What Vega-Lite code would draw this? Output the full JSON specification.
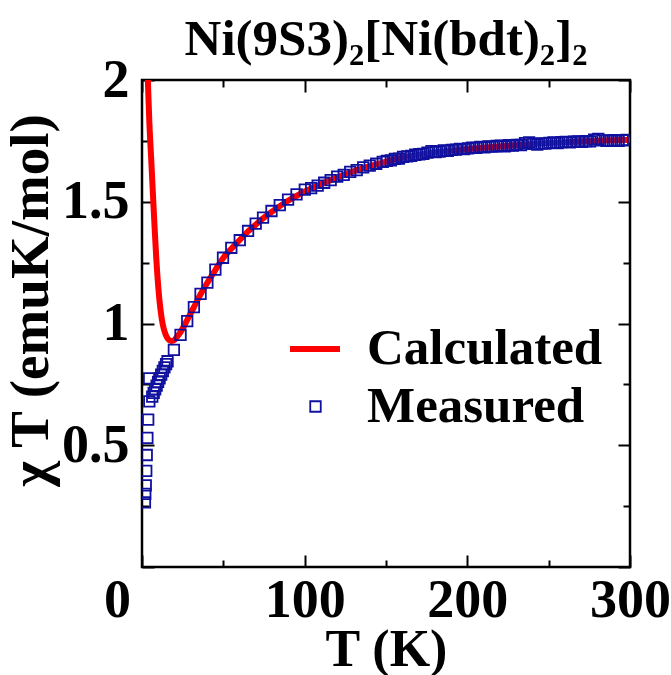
{
  "$schema": "https://vega.github.io/schema/vega-lite/v6.json",
  "autosize": {"type": "none"},
  "width": 488,
  "height": 487,
  "padding": {"left": 142, "top": 80, "right": 41, "bottom": 108},
  "background": "white",
  "config": {
    "font": "Liberation Serif",
    "view": {"stroke": "black", "strokeWidth": 2.5},
    "axis": {
      "domain": false, "grid": false, "tickColor": "black", "tickWidth": 2,
      "labelFont": "Liberation Serif", "labelFontWeight": "bold", "labelFontSize": 54, "labelColor": "black",
      "titleFont": "Liberation Serif", "titleFontWeight": "bold", "titleFontSize": 52, "titleColor": "black",
      "labelFlush": false, "labelOverlap": false, "labelBound": false
    }
  },
  "title": {"text": "Ni(9S3)₂[Ni(bdt)₂]₂", "fontSize": 51, "font": "Liberation Serif", "fontWeight": "bold", "anchor": "middle", "frame": "group", "baseline": "alphabetic", "offset": -53, "color": "black"},
  "datasets": {
    "calc": [
      {"T": 2.8, "chiT": 2.15}, {"T": 3.6, "chiT": 2.0}, {"T": 4.5, "chiT": 1.83}, {"T": 5.7, "chiT": 1.67},
      {"T": 6.7, "chiT": 1.535}, {"T": 7.7, "chiT": 1.4}, {"T": 8.8, "chiT": 1.265}, {"T": 10.0, "chiT": 1.15},
      {"T": 11.3, "chiT": 1.06}, {"T": 12.8, "chiT": 0.995}, {"T": 14.5, "chiT": 0.955}, {"T": 16.2, "chiT": 0.935},
      {"T": 17.8, "chiT": 0.928}, {"T": 19.5, "chiT": 0.93}, {"T": 21.5, "chiT": 0.945}, {"T": 23.7, "chiT": 0.965},
      {"T": 27.8, "chiT": 1.015}, {"T": 31.9, "chiT": 1.067}, {"T": 36.0, "chiT": 1.12}, {"T": 40.2, "chiT": 1.168},
      {"T": 45.1, "chiT": 1.22}, {"T": 49.8, "chiT": 1.268}, {"T": 54.9, "chiT": 1.307}, {"T": 60.1, "chiT": 1.343},
      {"T": 65.2, "chiT": 1.378}, {"T": 69.9, "chiT": 1.406}, {"T": 74.4, "chiT": 1.432}, {"T": 79.6, "chiT": 1.458},
      {"T": 84.7, "chiT": 1.482}, {"T": 89.8, "chiT": 1.504}, {"T": 95.0, "chiT": 1.524}, {"T": 100, "chiT": 1.542},
      {"T": 110, "chiT": 1.572}, {"T": 120, "chiT": 1.6}, {"T": 130, "chiT": 1.625}, {"T": 140, "chiT": 1.646},
      {"T": 150, "chiT": 1.665}, {"T": 160, "chiT": 1.681}, {"T": 170, "chiT": 1.693}, {"T": 180, "chiT": 1.703},
      {"T": 190, "chiT": 1.71}, {"T": 200, "chiT": 1.716}, {"T": 210, "chiT": 1.722}, {"T": 220, "chiT": 1.727},
      {"T": 230, "chiT": 1.732}, {"T": 240, "chiT": 1.737}, {"T": 250, "chiT": 1.741}, {"T": 260, "chiT": 1.744},
      {"T": 270, "chiT": 1.747}, {"T": 280, "chiT": 1.75}, {"T": 290, "chiT": 1.753}, {"T": 300, "chiT": 1.755}
    ],
    "meas": [
      {"T": 1.8, "chiT": 0.265}, {"T": 2.0, "chiT": 0.3}, {"T": 2.3, "chiT": 0.335}, {"T": 2.6, "chiT": 0.395},
      {"T": 2.9, "chiT": 0.46}, {"T": 3.3, "chiT": 0.53}, {"T": 3.8, "chiT": 0.605}, {"T": 4.5, "chiT": 0.68},
      {"T": 4.4, "chiT": 0.775}, {"T": 6.3, "chiT": 0.7}, {"T": 7.2, "chiT": 0.715}, {"T": 8.1, "chiT": 0.73},
      {"T": 9.0, "chiT": 0.745}, {"T": 9.9, "chiT": 0.76}, {"T": 10.8, "chiT": 0.775}, {"T": 11.8, "chiT": 0.79},
      {"T": 12.8, "chiT": 0.805}, {"T": 13.8, "chiT": 0.82}, {"T": 14.8, "chiT": 0.833}, {"T": 15.7, "chiT": 0.845},
      {"T": 19.6, "chiT": 0.892}, {"T": 23.7, "chiT": 0.953}, {"T": 27.8, "chiT": 1.01}, {"T": 31.9, "chiT": 1.067},
      {"T": 36.0, "chiT": 1.122}, {"T": 40.2, "chiT": 1.168}, {"T": 45.1, "chiT": 1.221}, {"T": 49.8, "chiT": 1.27},
      {"T": 54.9, "chiT": 1.311}, {"T": 60.1, "chiT": 1.342}, {"T": 65.2, "chiT": 1.38}, {"T": 69.9, "chiT": 1.41},
      {"T": 74.4, "chiT": 1.435}, {"T": 79.6, "chiT": 1.462}, {"T": 84.7, "chiT": 1.486}, {"T": 89.8, "chiT": 1.509},
      {"T": 95.0, "chiT": 1.53}, {"T": 100.1, "chiT": 1.55},
      {"T": 104, "chiT": 1.556}, {"T": 108, "chiT": 1.566}, {"T": 112, "chiT": 1.578}, {"T": 116, "chiT": 1.589},
      {"T": 120, "chiT": 1.603}, {"T": 124, "chiT": 1.61}, {"T": 128, "chiT": 1.623}, {"T": 132, "chiT": 1.63},
      {"T": 136, "chiT": 1.641}, {"T": 140, "chiT": 1.648}, {"T": 144, "chiT": 1.656}, {"T": 148, "chiT": 1.664},
      {"T": 150.5, "chiT": 1.668}, {"T": 153, "chiT": 1.67}, {"T": 155.5, "chiT": 1.676}, {"T": 158, "chiT": 1.677},
      {"T": 160.5, "chiT": 1.684}, {"T": 163, "chiT": 1.686}, {"T": 165.5, "chiT": 1.688}, {"T": 168, "chiT": 1.693},
      {"T": 170.5, "chiT": 1.695}, {"T": 173, "chiT": 1.697}, {"T": 175.5, "chiT": 1.702}, {"T": 178, "chiT": 1.708},
      {"T": 180.5, "chiT": 1.704}, {"T": 183, "chiT": 1.706}, {"T": 185.5, "chiT": 1.711}, {"T": 188, "chiT": 1.709},
      {"T": 190.5, "chiT": 1.713}, {"T": 193, "chiT": 1.714}, {"T": 195.5, "chiT": 1.717}, {"T": 198, "chiT": 1.716},
      {"T": 200.5, "chiT": 1.719}, {"T": 203, "chiT": 1.722}, {"T": 205.5, "chiT": 1.721}, {"T": 208, "chiT": 1.725},
      {"T": 210.5, "chiT": 1.723}, {"T": 213, "chiT": 1.727}, {"T": 215.5, "chiT": 1.726}, {"T": 218, "chiT": 1.729},
      {"T": 220.5, "chiT": 1.73}, {"T": 223, "chiT": 1.728}, {"T": 225.5, "chiT": 1.732}, {"T": 228, "chiT": 1.731},
      {"T": 230.5, "chiT": 1.734}, {"T": 233, "chiT": 1.733}, {"T": 235.5, "chiT": 1.741}, {"T": 238, "chiT": 1.744},
      {"T": 240.5, "chiT": 1.738}, {"T": 243, "chiT": 1.735}, {"T": 245.5, "chiT": 1.74}, {"T": 248, "chiT": 1.739},
      {"T": 250.5, "chiT": 1.742}, {"T": 253, "chiT": 1.744}, {"T": 255.5, "chiT": 1.741}, {"T": 258, "chiT": 1.745},
      {"T": 260.5, "chiT": 1.746}, {"T": 263, "chiT": 1.744}, {"T": 265.5, "chiT": 1.747}, {"T": 268, "chiT": 1.748},
      {"T": 270.5, "chiT": 1.746}, {"T": 273, "chiT": 1.749}, {"T": 275.5, "chiT": 1.748}, {"T": 278, "chiT": 1.755},
      {"T": 280.5, "chiT": 1.758}, {"T": 283, "chiT": 1.752}, {"T": 285.5, "chiT": 1.75}, {"T": 288, "chiT": 1.751},
      {"T": 290.5, "chiT": 1.753}, {"T": 293, "chiT": 1.75}, {"T": 295.5, "chiT": 1.752}, {"T": 298, "chiT": 1.754}
    ]
  },
  "layer": [
    {
      "data": {"name": "calc"},
      "mark": {"type": "line", "strokeWidth": 6, "clip": true, "interpolate": "monotone"},
      "encoding": {
        "x": {
          "field": "T", "type": "quantitative",
          "scale": {"domain": [0, 300], "nice": false, "zero": false},
          "axis": {
            "orient": "bottom", "values": [0, 50, 100, 150, 200, 250, 300], "format": "d",
            "tickSize": {"condition": {"test": "datum.value % 100 == 0", "value": -12}, "value": -7},
            "labelExpr": "datum.value % 100 == 0 ? datum.label : ''",
            "labelOffset": {"condition": {"test": "datum.value == 0", "value": -25}, "value": 0},
            "labelPadding": 18,
            "title": "T (K)", "titleX": 244, "titleY": 98, "titleBaseline": "alphabetic", "titleAlign": "center"
          }
        },
        "y": {
          "field": "chiT", "type": "quantitative",
          "scale": {"domain": [0, 2], "nice": false, "zero": false},
          "axis": {
            "orient": "left", "values": [0, 0.25, 0.5, 0.75, 1, 1.25, 1.5, 1.75, 2], "format": "~g",
            "tickSize": {"condition": {"test": "datum.value % 0.5 == 0", "value": -12}, "value": -7},
            "labelExpr": "datum.value % 0.5 == 0 && datum.value > 0 ? datum.label : ''",
            "labelPadding": 25,
            "title": "χ T (emuK/mol)", "titleFontSize": 55, "titleX": -95, "titleY": 220, "titleBaseline": "alphabetic", "titleAngle": -90, "titleAlign": "center"
          }
        },
        "color": {
          "datum": "Calculated",
          "scale": {"domain": ["Calculated"], "range": ["#ff0000"]},
          "legend": {
            "orient": "none", "legendX": 145, "legendY": 241, "title": null,
            "symbolType": "stroke", "symbolStrokeWidth": 6, "symbolSize": 2500,
            "labelFont": "Liberation Serif", "labelFontWeight": "bold", "labelFontSize": 51, "labelColor": "black",
            "labelOffset": 24, "padding": 0, "labelLimit": 400
          }
        }
      }
    },
    {
      "data": {"name": "meas"},
      "mark": {"type": "point", "shape": "square", "filled": false, "color": "#10109e", "strokeWidth": 1.8, "size": 110, "clip": true, "opacity": 1},
      "encoding": {
        "x": {
          "field": "T", "type": "quantitative",
          "axis": {
            "orient": "top", "values": [0, 50, 100, 150, 200, 250, 300],
            "tickSize": {"condition": {"test": "datum.value % 100 == 0", "value": -12}, "value": -7},
            "labels": false, "title": null
          }
        },
        "y": {
          "field": "chiT", "type": "quantitative",
          "axis": {
            "orient": "right", "values": [0, 0.25, 0.5, 0.75, 1, 1.25, 1.5, 1.75, 2],
            "tickSize": {"condition": {"test": "datum.value % 0.5 == 0", "value": -12}, "value": -7},
            "labels": false, "title": null
          }
        },
        "shape": {
          "datum": "Measured",
          "scale": {"domain": ["Measured"], "range": ["square"]},
          "legend": {
            "orient": "none", "legendX": 148, "legendY": 301, "title": null,
            "symbolStrokeColor": "#10109e", "symbolFillColor": "transparent", "symbolStrokeWidth": 1.8, "symbolSize": 110,
            "labelFont": "Liberation Serif", "labelFontWeight": "bold", "labelFontSize": 51, "labelColor": "black",
            "labelOffset": 26, "padding": 0, "labelLimit": 400
          }
        }
      }
    }
  ],
  "resolve": {"axis": {"x": "independent", "y": "independent"}}
}
